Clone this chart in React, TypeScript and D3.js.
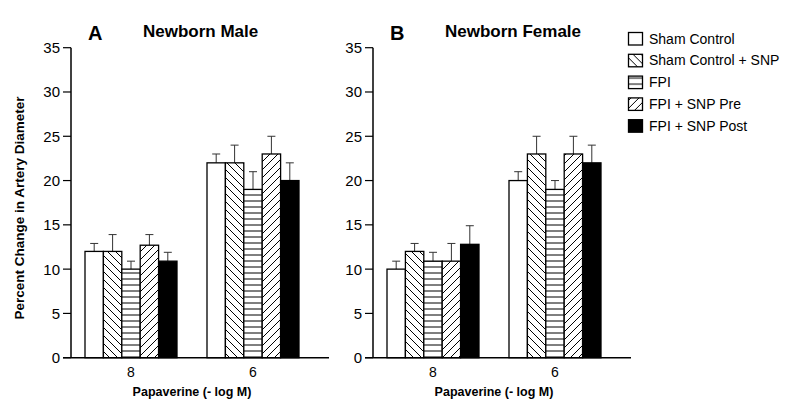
import * as d3 from 'd3';

const groups = ['8', '6'];
const series = ['Sham Control', 'Sham Control + SNP', 'FPI', 'FPI + SNP Pre', 'FPI + SNP Post'];
const fills = ['#fff', 'url(#hatchBack)', 'url(#hatchHoriz)', 'url(#hatchFwd)', '#000'];

// values per group (8, 6), one row per series
const maleMeans = [[12, 22], [12, 22], [10, 19], [12.7, 23], [10.9, 20]];
const maleErr = [[0.9, 1], [1.9, 2], [0.9, 2], [1.2, 2], [1, 2]];
const femaleMeans = [[10, 20], [12, 23], [10.9, 19], [10.9, 23], [12.8, 22]];
const femaleErr = [[0.9, 1], [0.9, 2], [1, 1], [2, 2], [2.1, 2]];
const yTicks = [0, 5, 10, 15, 20, 25, 30, 35];

const font = 'Liberation Sans, Arial, sans-serif';

function Panel({ x0, letter, title, means, errs }: { x0: number; letter: string; title: string; means: number[][]; errs: number[][] }) {
  const y = d3.scaleLinear().domain([0, 35]).range([357.7, 47.7]);
  const xg = d3.scaleBand().domain(groups).range([x0 + 14, x0 + 228]).paddingInner(30 / 122).paddingOuter(0);
  const xs = d3.scaleBand().domain(series).range([0, xg.bandwidth()]);
  const mid = (xg('8')! + xg('6')! + xg.bandwidth()) / 2;

  return (
    <g>
      <text x={x0 + 17} y={40} fontFamily={font} fontWeight="bold" fontSize={20}>{letter}</text>
      <text x={x0 + 72} y={37} fontFamily={font} fontWeight="bold" fontSize={17}>{title}</text>
      {/* bars */}
      {groups.map((g, gi) =>
        series.map((s, si) => {
          const bx = xg(g)! + xs(s)!;
          const v = means[si][gi];
          const e = errs[si][gi];
          const cx = bx + xs.bandwidth() / 2;
          return (
            <g key={g + s}>
              <line x1={cx} x2={cx} y1={y(v)} y2={y(v + e)} stroke="#333" strokeWidth={1} />
              <line x1={cx - 4} x2={cx + 4} y1={y(v + e)} y2={y(v + e)} stroke="#333" strokeWidth={1} />
              <rect x={bx} y={y(v)} width={xs.bandwidth()} height={y(0) - y(v)} fill={fills[si]} stroke="#000" strokeWidth={1.3} />
            </g>
          );
        })
      )}
      {/* axes */}
      <line x1={x0} x2={x0} y1={y(35)} y2={y(0)} stroke="#000" strokeWidth={1.5} />
      <line x1={x0 - 8} x2={x0 + 258} y1={y(0)} y2={y(0)} stroke="#000" strokeWidth={1.5} />
      {yTicks.map(t => (
        <g key={t}>
          <line x1={x0 - 8} x2={x0} y1={y(t)} y2={y(t)} stroke="#000" strokeWidth={1.2} />
          <text x={x0 - 11} y={y(t) + 5.5} textAnchor="end" fontFamily={font} fontSize={15}>{t}</text>
        </g>
      ))}
      {groups.map(g => (
        <text key={g} x={xg(g)! + xg.bandwidth() / 2} y={377} textAnchor="middle" fontFamily={font} fontSize={14}>{g}</text>
      ))}
      <text x={mid} y={395.5} textAnchor="middle" fontFamily={font} fontWeight="bold" fontSize={12.5}>Papaverine (- log M)</text>
    </g>
  );
}

export default function App() {
  return (
    <svg width={800} height={411} style={{ position: 'absolute', left: 0, top: 0, background: '#fff' }}>
      <defs>
        <pattern id="hatchBack" width={8} height={8} patternUnits="userSpaceOnUse">
          <rect width={8} height={8} fill="#fff" />
          <path d="M0,0 L8,8 M-2,6 L2,10 M6,-2 L10,2" stroke="#000" strokeWidth={1} />
        </pattern>
        <pattern id="hatchFwd" width={8} height={8} patternUnits="userSpaceOnUse">
          <rect width={8} height={8} fill="#fff" />
          <path d="M0,8 L8,0 M-2,2 L2,-2 M6,10 L10,6" stroke="#000" strokeWidth={1} />
        </pattern>
        <pattern id="hatchHoriz" width={6} height={6} patternUnits="userSpaceOnUse">
          <rect width={6} height={6} fill="#fff" />
          <path d="M0,3 L6,3" stroke="#000" strokeWidth={1} />
        </pattern>
      </defs>
      <rect width={800} height={411} fill="#fff" />
      <Panel x0={71} letter="A" title="Newborn Male" means={maleMeans} errs={maleErr} />
      <Panel x0={373} letter="B" title="Newborn Female" means={femaleMeans} errs={femaleErr} />
      <text transform="translate(24,208) rotate(-90)" textAnchor="middle" fontFamily={font} fontWeight="bold" fontSize={13.5}>Percent Change in Artery Diameter</text>
      {series.map((s, i) => (
        <g key={s} transform={`translate(628,${43.5 + i * 21.8})`}>
          <rect x={0.5} y={-11} width={14} height={12.5} fill={fills[i]} stroke="#000" strokeWidth={1.3} />
          <text x={21} y={0} fontFamily={font} fontSize={14}>{s}</text>
        </g>
      ))}
    </svg>
  );
}
